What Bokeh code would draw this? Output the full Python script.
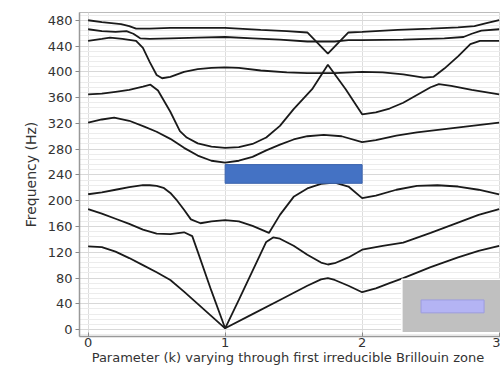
from bokeh.plotting import figure
from bokeh.models import FixedTicker, Range1d
from bokeh.embed import file_html
from bokeh.resources import INLINE

# ---- data ----
b1_k = [0, 0.1, 0.2, 0.3, 0.4, 0.5, 0.6, 0.7, 0.8, 0.9, 1.0, 1.2, 1.4, 1.6, 1.7, 1.75, 1.8, 1.9, 2.0, 2.1, 2.2, 2.3, 2.5, 2.7, 2.85, 3.0]
b1_f = [129, 128, 121, 111, 100, 89, 77, 59, 40, 21, 2, 24, 46, 68, 78, 80, 77, 68, 58, 64, 72, 80, 97, 112, 122, 130]

b2_k = [0, 0.1, 0.2, 0.3, 0.4, 0.5, 0.6, 0.7, 0.76, 0.8, 0.9, 1.0, 1.1, 1.2, 1.3, 1.35, 1.4, 1.5, 1.6, 1.7, 1.75, 1.8, 1.9, 2.0, 2.15, 2.3, 2.5, 2.7, 2.85, 3.0]
b2_f = [187, 180, 172, 164, 155, 149, 148, 151, 145, 121, 60, 2, 46, 91, 136, 143, 141, 130, 116, 104, 101, 103, 112, 124, 130, 135, 150, 166, 178, 187]

b3_k = [0, 0.1, 0.2, 0.3, 0.4, 0.45, 0.5, 0.55, 0.6, 0.65, 0.7, 0.75, 0.82, 0.9, 1.0, 1.1, 1.2, 1.32, 1.4, 1.5, 1.6, 1.7, 1.8, 1.9, 2.0, 2.1, 2.25, 2.4, 2.55, 2.7, 2.85, 3.0]
b3_f = [210, 213, 217, 221, 224, 224, 223, 220, 212, 200, 186, 171, 165, 168, 170, 168, 161, 150, 178, 206, 219, 226, 228, 222, 204, 208, 217, 223, 224, 222, 217, 210]

b4_k = [0, 0.1, 0.19, 0.3, 0.41, 0.5, 0.6, 0.7, 0.8, 0.9, 1.0, 1.1, 1.2, 1.3, 1.4, 1.5, 1.6, 1.72, 1.85, 2.0, 2.1, 2.25, 2.4, 2.6, 2.8, 3.0]
b4_f = [321, 326, 329, 324, 315, 307, 296, 282, 270, 262, 259, 262, 268, 278, 287, 295, 300, 302, 300, 291, 294, 301, 306, 311, 316, 321]

b5_k = [0, 0.1, 0.2, 0.3, 0.4, 0.455, 0.51, 0.6, 0.67, 0.72, 0.8, 0.9, 1.0, 1.1, 1.2, 1.3, 1.4, 1.5, 1.635, 1.75, 1.88, 2.0, 2.1, 2.2, 2.3, 2.4, 2.5, 2.56, 2.65, 2.8, 3.0]
b5_f = [365, 366, 369, 372, 377, 380, 371, 338, 308, 298, 289, 284, 282, 283, 288, 298, 316, 342, 373, 411, 373, 334, 337, 343, 352, 364, 376, 381, 378, 372, 365]

b6_k = [0, 0.1, 0.16, 0.25, 0.35, 0.4, 0.45, 0.5, 0.54, 0.6, 0.7, 0.8, 0.9, 1.0, 1.1, 1.26, 1.45, 1.6, 1.8, 2.0, 2.15, 2.3, 2.45, 2.52, 2.6, 2.7, 2.79, 2.86, 3.0]
b6_f = [448, 451, 453, 451, 448, 437, 415, 395, 390, 392, 400, 404, 406, 407, 406, 402, 399, 398, 398, 400, 399, 396, 391, 392, 405, 424, 443, 448, 448]

b7_k = [0, 0.1, 0.2, 0.28, 0.33, 0.38, 0.45, 0.6, 0.8, 1.0, 1.2, 1.4, 1.6, 1.7, 1.8, 1.9, 2.0, 2.3, 2.6, 2.74, 2.8, 2.87, 3.0]
b7_f = [466, 463, 462, 463, 459, 452, 451, 452, 453, 454, 452, 450, 447, 447, 447, 449, 449, 450, 452, 454, 459, 464, 466]

b8_k = [0, 0.1, 0.24, 0.3, 0.35, 0.45, 0.6, 0.8, 1.0, 1.26, 1.45, 1.6, 1.75, 1.9, 2.0, 2.26, 2.5, 2.7, 2.82, 2.9, 3.0]
b8_f = [480, 477, 474, 471, 467, 467, 468, 468, 468, 465, 463, 461, 428, 461, 462, 465, 467, 469, 471, 475, 480]

bands = [(b1_k, b1_f), (b2_k, b2_f), (b3_k, b3_f), (b4_k, b4_f),
         (b5_k, b5_f), (b6_k, b6_f), (b7_k, b7_f), (b8_k, b8_f)]

# highlighted gap (blue box)
gap_k = [1.0, 2.0]
gap_f = [227, 256]

# inset box (grey) and inner rectangle (lavender)
inset_k = [2.29, 3.1]
inset_f = [-5, 78]
inner_k = [2.43, 2.89]
inner_f = [26, 46]

x_ticks = [0, 1, 2, 3]
y_ticks = list(range(0, 481, 40))
y_minor = list(range(-8, 496, 8))

x_title = "Parameter (k) varying through first  irreducible Brillouin zone"
y_title = "Frequency (Hz)"

FONT = "DejaVu Sans"

p = figure(width=500, height=367, output_backend="svg", toolbar_location=None,
           x_range=Range1d(-0.063, 3.01), y_range=Range1d(-10.7, 492),
           min_border_left=79, min_border_top=12, min_border_right=0, min_border_bottom=0)
p.background_fill_color = "white"
p.border_fill_color = "white"
p.outline_line_color = "#bbbbbb"

for k, f in bands:
    p.line(k, f, line_color="#1a1a1a", line_width=1.8)

p.quad(left=gap_k[0], right=gap_k[1], bottom=gap_f[0], top=gap_f[1],
       fill_color="#4472C4", line_color="#3b63ad", line_width=1)

p.quad(left=inset_k[0], right=inset_k[1], bottom=inset_f[0], top=inset_f[1],
       fill_color="#c0c0c0", line_color="#ffffff", line_width=1.5)
p.quad(left=inner_k[0], right=inner_k[1], bottom=inner_f[0], top=inner_f[1],
       fill_color="#b4b4f4", line_color="#9c9ce0", line_width=1)

p.xaxis.ticker = FixedTicker(ticks=x_ticks)
p.yaxis.ticker = FixedTicker(ticks=y_ticks, minor_ticks=y_minor)

p.xgrid.grid_line_color = "#dddddd"
p.ygrid.grid_line_color = "#d8d8d8"
p.ygrid.minor_grid_line_color = "#ececec"

for ax in (p.xaxis[0], p.yaxis[0]):
    ax.axis_line_color = "#999999"
    ax.axis_line_width = 1.5
    ax.major_tick_line_color = "#888888"
    ax.minor_tick_line_color = None
    ax.major_label_text_font = FONT
    ax.major_label_text_font_size = "13px"
    ax.major_label_text_color = "#333333"
    ax.axis_label_text_font = FONT
    ax.axis_label_text_font_size = "13px"
    ax.axis_label_text_color = "#333333"
    ax.axis_label_text_font_style = "normal"

p.xaxis.major_tick_in = 4
p.xaxis.major_tick_out = 0
p.xaxis.major_label_standoff = 1
p.xaxis.axis_label_standoff = 0
p.xaxis.axis_label = x_title
p.yaxis.major_tick_in = 0
p.yaxis.major_tick_out = 4
p.yaxis.major_label_standoff = 3
p.yaxis.axis_label_standoff = 6
p.yaxis.axis_label_text_font_size = "14px"
p.yaxis.axis_label = y_title

open("out.html", "w").write(file_html(p, INLINE))
